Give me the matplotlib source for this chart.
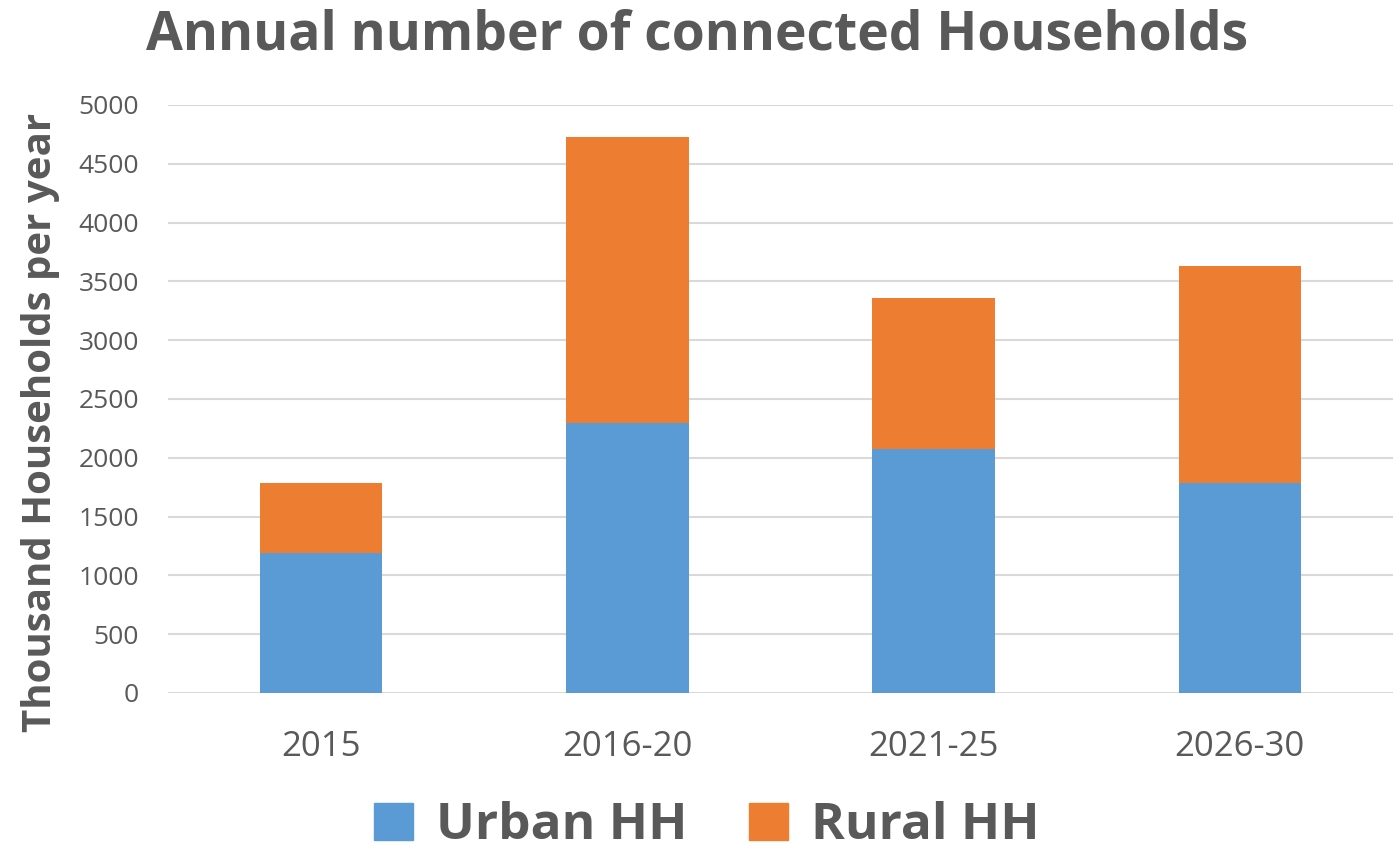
import matplotlib.pyplot as plt
import numpy as np
from matplotlib.patches import Patch

plt.rcParams['font.family'] = ['Open Sans', 'DejaVu Sans']

periods = ['2015', '2016-20', '2021-25', '2026-30']
urban_hh = [1188, 2293, 2072, 1783]
rural_hh = [595, 2432, 1284, 1845]

urban_color = '#5b9bd5'
rural_color = '#ed7d31'
text_color = '#595959'

fig = plt.figure(figsize=(14, 8.59), dpi=100)
ax = fig.add_axes([0.12, 0.1933, 0.875, 0.6845])

x = np.arange(len(periods))
ax.bar(x, urban_hh, width=0.4, color=urban_color, zorder=3)
ax.bar(x, rural_hh, width=0.4, bottom=urban_hh, color=rural_color, zorder=3)

ax.set_xlim(-0.5, 3.5)
ax.set_ylim(0, 5000)
ax.set_yticks(np.arange(0, 5001, 500))
ax.set_xticks(x)
ax.set_xticklabels(periods)
ax.grid(axis='y', color='#d9d9d9', linewidth=1.5, zorder=0)
for s in ax.spines.values():
    s.set_visible(False)
ax.tick_params(axis='both', length=0, colors=text_color)
ax.tick_params(axis='y', labelsize=19, pad=21)
ax.tick_params(axis='x', labelsize=25, pad=27)

ax.set_ylabel('Thousand Households per year', fontsize=29, fontweight='bold',
              color=text_color)
ax.yaxis.set_label_coords(-0.088, 0.46)
fig.suptitle('Annual number of connected Households', fontsize=38.5, fontweight='bold',
             color=text_color, x=0.498, y=0.99)

# legend squares below the axes
handles = [Patch(color=urban_color), Patch(color=rural_color)]
fig.legend(handles, ['Urban HH', 'Rural HH'], loc='lower center', ncol=2,
           bbox_to_anchor=(0.505, -0.045), frameon=False,
           prop={'size': 37, 'weight': 'bold'}, labelcolor=text_color,
           handlelength=0.75, handleheight=0.75, columnspacing=1.2, handletextpad=0.45)

fig.savefig('out.png', dpi=100)
